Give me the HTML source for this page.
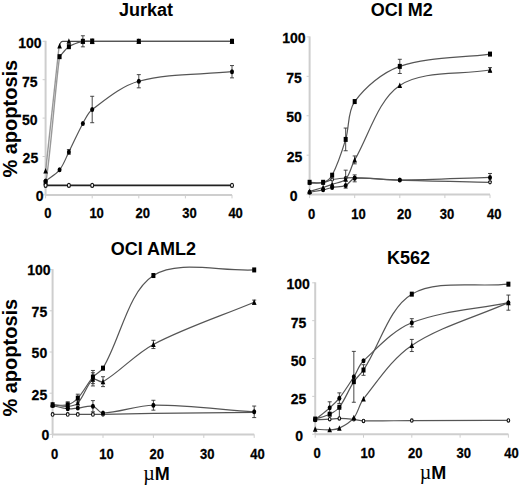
<!DOCTYPE html>
<html><head><meta charset="utf-8"><style>
html,body{margin:0;padding:0;background:#fff;}
body{width:520px;height:486px;overflow:hidden;}
svg{display:block;font-family:"Liberation Sans", sans-serif;}
text{fill:#000;}
</style></head><body>
<svg width="520" height="486" viewBox="0 0 520 486">
<rect width="520" height="486" fill="#fff"/>
<g stroke="#cecece" stroke-width="2" fill="none">
<path d="M45.60 40.80V194.90"/>
<path d="M45.60 194.90H232.00"/>
</g>
<g stroke="#cecece" stroke-width="1" fill="none">
<path d="M42.60 194.90H45.60"/>
<path d="M42.60 156.50H45.60"/>
<path d="M42.60 118.10H45.60"/>
<path d="M42.60 79.70H45.60"/>
<path d="M42.60 41.30H45.60"/>
<path d="M45.60 194.90V198.40"/>
<path d="M92.20 194.90V198.40"/>
<path d="M138.80 194.90V198.40"/>
<path d="M185.40 194.90V198.40"/>
<path d="M232.00 194.90V198.40"/>
</g>
<path d="M59.6 46 C60.1 42.6, 60.8 41.3, 62.8 41.3 H232" fill="none" stroke="#4a4a4a" stroke-width="1.2"/>
<path d="M45.6 171.1 L59.1 46" fill="none" stroke="#999" stroke-width="1.4"/>
<path d="M59.58 56.66 C62.69 53.33 65.20 49.12 68.90 46.68 C72.96 44.00 78.09 42.40 82.88 41.30 C85.86 40.61 89.09 41.30 92.20 41.30 C107.73 41.30 123.27 41.30 138.80 41.30 C169.87 41.30 200.93 41.30 232.00 41.30" fill="none" stroke="#555" stroke-width="1.2"/>
<path d="M45.8 182.6 C50 160, 56 80, 59.6 56.7" fill="none" stroke="#999" stroke-width="1.4"/>
<path d="M45.60 181.08 C50.26 177.34 55.93 174.43 59.58 169.86 C63.70 164.70 65.87 157.92 68.90 151.89 C73.64 142.46 77.81 132.71 82.88 123.48 C85.57 118.58 87.81 112.82 92.20 109.50 C106.45 98.74 121.66 85.87 138.80 81.24 C168.26 73.27 200.93 74.89 232.00 71.71" fill="none" stroke="#555" stroke-width="1.2"/>
<path d="M45.60 185.38 L68.90 185.38 L92.20 185.38 L232.00 185.38" fill="none" stroke="#222" stroke-width="1.6"/>
<path d="M82.88 35.77V46.83M80.88 35.77H84.88M80.88 46.83H84.88" stroke="#333" stroke-width="0.9" fill="none"/>
<path d="M92.20 39.00V43.60M90.20 39.00H94.20M90.20 43.60H94.20" stroke="#333" stroke-width="0.9" fill="none"/>
<path d="M68.90 149.59V154.20M66.90 149.59H70.90M66.90 154.20H70.90" stroke="#333" stroke-width="0.9" fill="none"/>
<path d="M92.20 96.29V122.71M90.20 96.29H94.20M90.20 122.71H94.20" stroke="#333" stroke-width="0.9" fill="none"/>
<path d="M138.80 74.63V87.84M136.80 74.63H140.80M136.80 87.84H140.80" stroke="#333" stroke-width="0.9" fill="none"/>
<path d="M232.00 65.57V77.86M230.00 65.57H234.00M230.00 77.86H234.00" stroke="#333" stroke-width="0.9" fill="none"/>
<path d="M45.60 168.09L47.90 173.59L43.30 173.59Z" fill="#000"/>
<path d="M59.58 42.91L61.88 48.41L57.28 48.41Z" fill="#000"/>
<path d="M68.90 38.30L71.20 43.80L66.60 43.80Z" fill="#000"/>
<path d="M82.88 38.30L85.18 43.80L80.58 43.80Z" fill="#000"/>
<path d="M92.20 38.30L94.50 43.80L89.90 43.80Z" fill="#000"/>
<path d="M138.80 38.30L141.10 43.80L136.50 43.80Z" fill="#000"/>
<path d="M232.00 38.30L234.30 43.80L229.70 43.80Z" fill="#000"/>
<rect x="57.58" y="54.16" width="4.00" height="5.00" fill="#000"/>
<rect x="66.90" y="44.18" width="4.00" height="5.00" fill="#000"/>
<rect x="80.88" y="38.80" width="4.00" height="5.00" fill="#000"/>
<rect x="90.20" y="38.80" width="4.00" height="5.00" fill="#000"/>
<rect x="136.80" y="38.80" width="4.00" height="5.00" fill="#000"/>
<rect x="230.00" y="38.80" width="4.00" height="5.00" fill="#000"/>
<rect x="43.60" y="180.11" width="4.00" height="5.00" fill="#000"/>
<ellipse cx="45.60" cy="181.08" rx="2.00" ry="2.50" fill="#000"/>
<ellipse cx="59.58" cy="169.86" rx="2.00" ry="2.50" fill="#000"/>
<ellipse cx="68.90" cy="151.89" rx="2.00" ry="2.50" fill="#000"/>
<ellipse cx="82.88" cy="123.48" rx="2.00" ry="2.50" fill="#000"/>
<ellipse cx="92.20" cy="109.50" rx="2.00" ry="2.50" fill="#000"/>
<ellipse cx="138.80" cy="81.24" rx="2.00" ry="2.50" fill="#000"/>
<ellipse cx="232.00" cy="71.71" rx="2.00" ry="2.50" fill="#000"/>
<ellipse cx="45.60" cy="185.38" rx="1.50" ry="2.00" fill="#fff" stroke="#111" stroke-width="1.1"/>
<ellipse cx="68.90" cy="185.38" rx="1.50" ry="2.00" fill="#fff" stroke="#111" stroke-width="1.1"/>
<ellipse cx="92.20" cy="185.38" rx="1.50" ry="2.00" fill="#fff" stroke="#111" stroke-width="1.1"/>
<ellipse cx="232.00" cy="185.38" rx="1.50" ry="2.00" fill="#fff" stroke="#111" stroke-width="1.1"/>
<text transform="translate(41.60 47.70) scale(1 1.030)" text-anchor="end" font-size="14" font-weight="bold" stroke="#000" stroke-width="0.25">100</text>
<text transform="translate(37.60 86.60) scale(1 1.030)" text-anchor="end" font-size="14" font-weight="bold" stroke="#000" stroke-width="0.25">75</text>
<text transform="translate(37.60 124.70) scale(1 1.030)" text-anchor="end" font-size="14" font-weight="bold" stroke="#000" stroke-width="0.25">50</text>
<text transform="translate(38.20 163.20) scale(1 1.030)" text-anchor="end" font-size="14" font-weight="bold" stroke="#000" stroke-width="0.25">25</text>
<text transform="translate(43.60 200.60) scale(1 1.030)" text-anchor="end" font-size="14" font-weight="bold" stroke="#000" stroke-width="0.25">0</text>
<text transform="translate(47.80 218.20) scale(1 1.130)" text-anchor="middle" font-size="13" font-weight="bold" stroke="#000" stroke-width="0.25">0</text>
<text transform="translate(96.60 218.20) scale(1 1.130)" text-anchor="middle" font-size="13" font-weight="bold" stroke="#000" stroke-width="0.25">10</text>
<text transform="translate(142.70 218.20) scale(1 1.130)" text-anchor="middle" font-size="13" font-weight="bold" stroke="#000" stroke-width="0.25">20</text>
<text transform="translate(189.50 218.20) scale(1 1.130)" text-anchor="middle" font-size="13" font-weight="bold" stroke="#000" stroke-width="0.25">30</text>
<text transform="translate(235.60 218.20) scale(1 1.130)" text-anchor="middle" font-size="13" font-weight="bold" stroke="#000" stroke-width="0.25">40</text>
<text x="146.00" y="15.80" text-anchor="middle" font-size="18" font-weight="bold">Jurkat</text>
<text transform="translate(16.60 118.70) rotate(-90)" text-anchor="middle" font-size="20" font-weight="bold">% apoptosis</text>
<g stroke="#cecece" stroke-width="2" fill="none">
<path d="M309.60 36.40V194.60"/>
<path d="M309.60 194.60H490.00"/>
</g>
<g stroke="#cecece" stroke-width="1" fill="none">
<path d="M306.60 194.60H309.60"/>
<path d="M306.60 155.18H309.60"/>
<path d="M306.60 115.75H309.60"/>
<path d="M306.60 76.33H309.60"/>
<path d="M306.60 36.90H309.60"/>
<path d="M309.60 194.60V198.10"/>
<path d="M354.70 194.60V198.10"/>
<path d="M399.80 194.60V198.10"/>
<path d="M444.90 194.60V198.10"/>
<path d="M490.00 194.60V198.10"/>
</g>
<path d="M309.60 183.09 C314.11 182.98 318.72 183.45 323.13 182.77 C326.24 182.29 329.05 180.27 332.15 179.62 C336.57 178.69 341.16 178.45 345.68 178.04 C348.68 177.77 351.69 177.45 354.70 177.57 C369.73 178.14 384.75 179.57 399.80 180.09 C429.85 181.14 459.93 181.56 490.00 182.30" fill="none" stroke="#555" stroke-width="1.2"/>
<path d="M309.60 182.30 C314.11 182.30 319.06 183.58 323.13 182.30 C326.58 181.21 330.42 178.50 332.15 175.20 C337.93 164.20 341.95 151.58 345.68 139.41 C349.47 127.03 347.40 111.41 354.70 101.56 C365.44 87.07 382.40 72.49 399.80 66.39 C427.50 56.67 459.93 58.19 490.00 54.09" fill="none" stroke="#555" stroke-width="1.2"/>
<path d="M309.60 191.45 C314.11 190.13 318.65 188.91 323.13 187.50 C326.17 186.55 329.16 185.46 332.15 184.35 C336.68 182.67 342.63 182.45 345.68 179.15 C350.15 174.30 351.16 166.03 354.70 159.91 C369.20 134.81 377.82 100.08 399.80 85.47 C422.92 70.11 459.93 75.17 490.00 70.02" fill="none" stroke="#555" stroke-width="1.2"/>
<path d="M309.60 192.23 C314.11 191.45 318.65 190.81 323.13 189.87 C326.17 189.23 329.10 188.10 332.15 187.50 C336.62 186.63 341.59 187.11 345.68 185.45 C349.11 184.06 351.04 178.72 354.70 178.36 C369.08 176.93 384.76 180.20 399.80 180.09 C429.86 179.88 459.93 178.30 490.00 177.41" fill="none" stroke="#555" stroke-width="1.2"/>
<path d="M345.68 128.05V150.76M343.68 128.05H347.68M343.68 150.76H347.68" stroke="#333" stroke-width="0.9" fill="none"/>
<path d="M399.80 59.29V73.49M397.80 59.29H401.80M397.80 73.49H401.80" stroke="#333" stroke-width="0.9" fill="none"/>
<path d="M345.68 170.16V188.13M343.68 170.16H347.68M343.68 188.13H347.68" stroke="#333" stroke-width="0.9" fill="none"/>
<path d="M354.70 155.96V163.85M352.70 155.96H356.70M352.70 163.85H356.70" stroke="#333" stroke-width="0.9" fill="none"/>
<path d="M490.00 67.65V72.38M488.00 67.65H492.00M488.00 72.38H492.00" stroke="#333" stroke-width="0.9" fill="none"/>
<path d="M354.70 174.89V181.83M352.70 174.89H356.70M352.70 181.83H356.70" stroke="#333" stroke-width="0.9" fill="none"/>
<path d="M490.00 173.47V181.35M488.00 173.47H492.00M488.00 181.35H492.00" stroke="#333" stroke-width="0.9" fill="none"/>
<ellipse cx="309.60" cy="183.09" rx="1.30" ry="1.60" fill="#fff" stroke="#111" stroke-width="1.1"/>
<ellipse cx="323.13" cy="182.77" rx="1.30" ry="1.60" fill="#fff" stroke="#111" stroke-width="1.1"/>
<ellipse cx="332.15" cy="179.62" rx="1.30" ry="1.60" fill="#fff" stroke="#111" stroke-width="1.1"/>
<ellipse cx="345.68" cy="178.04" rx="1.30" ry="1.60" fill="#fff" stroke="#111" stroke-width="1.1"/>
<ellipse cx="354.70" cy="177.57" rx="1.30" ry="1.60" fill="#fff" stroke="#111" stroke-width="1.1"/>
<ellipse cx="399.80" cy="180.09" rx="1.30" ry="1.60" fill="#fff" stroke="#111" stroke-width="1.1"/>
<ellipse cx="490.00" cy="182.30" rx="1.30" ry="1.60" fill="#fff" stroke="#111" stroke-width="1.1"/>
<rect x="307.60" y="179.80" width="4.00" height="5.00" fill="#000"/>
<rect x="321.13" y="179.80" width="4.00" height="5.00" fill="#000"/>
<rect x="330.15" y="172.70" width="4.00" height="5.00" fill="#000"/>
<rect x="343.68" y="136.91" width="4.00" height="5.00" fill="#000"/>
<rect x="352.70" y="99.06" width="4.00" height="5.00" fill="#000"/>
<rect x="397.80" y="63.89" width="4.00" height="5.00" fill="#000"/>
<rect x="488.00" y="51.59" width="4.00" height="5.00" fill="#000"/>
<path d="M309.60 188.45L311.90 193.95L307.30 193.95Z" fill="#000"/>
<path d="M323.13 184.50L325.43 190.00L320.83 190.00Z" fill="#000"/>
<path d="M332.15 181.35L334.45 186.85L329.85 186.85Z" fill="#000"/>
<path d="M345.68 176.15L347.98 181.65L343.38 181.65Z" fill="#000"/>
<path d="M354.70 156.91L357.00 162.41L352.40 162.41Z" fill="#000"/>
<path d="M399.80 82.47L402.10 87.97L397.50 87.97Z" fill="#000"/>
<path d="M490.00 67.02L492.30 72.52L487.70 72.52Z" fill="#000"/>
<ellipse cx="309.60" cy="192.23" rx="2.00" ry="2.50" fill="#000"/>
<ellipse cx="323.13" cy="189.87" rx="2.00" ry="2.50" fill="#000"/>
<ellipse cx="332.15" cy="187.50" rx="2.00" ry="2.50" fill="#000"/>
<ellipse cx="345.68" cy="185.45" rx="2.00" ry="2.50" fill="#000"/>
<ellipse cx="354.70" cy="178.36" rx="2.00" ry="2.50" fill="#000"/>
<ellipse cx="399.80" cy="180.09" rx="2.00" ry="2.50" fill="#000"/>
<ellipse cx="490.00" cy="177.41" rx="2.00" ry="2.50" fill="#000"/>
<text transform="translate(305.60 42.60) scale(1 1.030)" text-anchor="end" font-size="14" font-weight="bold" stroke="#000" stroke-width="0.25">100</text>
<text transform="translate(301.80 82.70) scale(1 1.030)" text-anchor="end" font-size="14" font-weight="bold" stroke="#000" stroke-width="0.25">75</text>
<text transform="translate(301.80 121.90) scale(1 1.030)" text-anchor="end" font-size="14" font-weight="bold" stroke="#000" stroke-width="0.25">50</text>
<text transform="translate(302.40 162.00) scale(1 1.030)" text-anchor="end" font-size="14" font-weight="bold" stroke="#000" stroke-width="0.25">25</text>
<text transform="translate(297.60 200.90) scale(1 1.030)" text-anchor="end" font-size="14" font-weight="bold" stroke="#000" stroke-width="0.25">0</text>
<text transform="translate(311.50 218.70) scale(1 1.130)" text-anchor="middle" font-size="13" font-weight="bold" stroke="#000" stroke-width="0.25">0</text>
<text transform="translate(358.40 218.70) scale(1 1.130)" text-anchor="middle" font-size="13" font-weight="bold" stroke="#000" stroke-width="0.25">10</text>
<text transform="translate(404.20 218.70) scale(1 1.130)" text-anchor="middle" font-size="13" font-weight="bold" stroke="#000" stroke-width="0.25">20</text>
<text transform="translate(447.00 218.70) scale(1 1.130)" text-anchor="middle" font-size="13" font-weight="bold" stroke="#000" stroke-width="0.25">30</text>
<text transform="translate(494.30 218.70) scale(1 1.130)" text-anchor="middle" font-size="13" font-weight="bold" stroke="#000" stroke-width="0.25">40</text>
<text x="401.80" y="16.40" text-anchor="middle" font-size="18" font-weight="bold">OCI M2</text>
<g stroke="#cecece" stroke-width="2" fill="none">
<path d="M52.60 269.10V434.40"/>
<path d="M52.60 434.40H254.20"/>
</g>
<g stroke="#cecece" stroke-width="1" fill="none">
<path d="M49.60 434.40H52.60"/>
<path d="M49.60 393.20H52.60"/>
<path d="M49.60 352.00H52.60"/>
<path d="M49.60 310.80H52.60"/>
<path d="M49.60 269.60H52.60"/>
<path d="M52.60 434.40V437.90"/>
<path d="M103.00 434.40V437.90"/>
<path d="M153.40 434.40V437.90"/>
<path d="M203.80 434.40V437.90"/>
<path d="M254.20 434.40V437.90"/>
</g>
<path d="M52.60 414.46 L67.72 414.46 L77.80 414.46 L92.92 414.46 L103.00 414.29 L153.40 413.47 L254.20 412.32" fill="none" stroke="#555" stroke-width="1.2"/>
<path d="M52.60 404.74 C57.64 404.74 63.04 405.96 67.72 404.74 C71.44 403.76 75.14 401.07 77.80 398.14 C83.54 391.84 87.39 383.64 92.92 377.05 C95.79 373.64 100.72 371.98 103.00 368.15 C120.88 338.14 127.65 292.26 153.40 275.53 C178.05 259.52 220.60 271.80 254.20 269.93" fill="none" stroke="#555" stroke-width="1.2"/>
<path d="M52.60 404.74 C57.64 405.29 62.77 406.71 67.72 406.38 C71.17 406.16 75.50 405.55 77.80 403.09 C83.90 396.54 86.78 384.58 92.92 379.36 C95.18 377.44 100.14 383.31 103.00 381.66 C120.30 371.67 135.03 354.07 153.40 344.42 C185.43 327.59 220.60 316.29 254.20 302.23" fill="none" stroke="#555" stroke-width="1.2"/>
<path d="M52.60 405.56 C57.64 406.66 62.64 408.36 67.72 408.86 C71.04 409.18 74.45 408.38 77.80 408.03 C82.85 407.50 88.25 405.30 92.92 406.22 C96.65 406.95 99.12 413.04 103.00 412.98 C119.28 412.71 136.49 405.36 153.40 405.23 C186.89 404.97 220.60 409.63 254.20 411.82" fill="none" stroke="#555" stroke-width="1.2"/>
<path d="M67.72 401.77V407.70M65.72 401.77H69.72M65.72 407.70H69.72" stroke="#333" stroke-width="0.9" fill="none"/>
<path d="M77.80 394.19V402.10M75.80 394.19H79.80M75.80 402.10H79.80" stroke="#333" stroke-width="0.9" fill="none"/>
<path d="M92.92 370.46V383.64M90.92 370.46H94.92M90.92 383.64H94.92" stroke="#333" stroke-width="0.9" fill="none"/>
<path d="M92.92 372.76V385.95M90.92 372.76H94.92M90.92 385.95H94.92" stroke="#333" stroke-width="0.9" fill="none"/>
<path d="M103.00 376.72V386.61M101.00 376.72H105.00M101.00 386.61H105.00" stroke="#333" stroke-width="0.9" fill="none"/>
<path d="M153.40 340.30V348.54M151.40 340.30H155.40M151.40 348.54H155.40" stroke="#333" stroke-width="0.9" fill="none"/>
<path d="M254.20 300.09V304.37M252.20 300.09H256.20M252.20 304.37H256.20" stroke="#333" stroke-width="0.9" fill="none"/>
<path d="M92.92 400.62V411.82M90.92 400.62H94.92M90.92 411.82H94.92" stroke="#333" stroke-width="0.9" fill="none"/>
<path d="M153.40 400.29V410.17M151.40 400.29H155.40M151.40 410.17H155.40" stroke="#333" stroke-width="0.9" fill="none"/>
<path d="M254.20 406.05V417.59M252.20 406.05H256.20M252.20 417.59H256.20" stroke="#333" stroke-width="0.9" fill="none"/>
<ellipse cx="52.60" cy="414.46" rx="1.40" ry="1.80" fill="#fff" stroke="#111" stroke-width="1.1"/>
<ellipse cx="67.72" cy="414.46" rx="1.40" ry="1.80" fill="#fff" stroke="#111" stroke-width="1.1"/>
<ellipse cx="77.80" cy="414.46" rx="1.40" ry="1.80" fill="#fff" stroke="#111" stroke-width="1.1"/>
<ellipse cx="92.92" cy="414.46" rx="1.40" ry="1.80" fill="#fff" stroke="#111" stroke-width="1.1"/>
<ellipse cx="103.00" cy="414.29" rx="1.40" ry="1.80" fill="#fff" stroke="#111" stroke-width="1.1"/>
<rect x="50.60" y="402.24" width="4.00" height="5.00" fill="#000"/>
<rect x="65.72" y="402.24" width="4.00" height="5.00" fill="#000"/>
<rect x="75.80" y="395.64" width="4.00" height="5.00" fill="#000"/>
<rect x="90.92" y="374.55" width="4.00" height="5.00" fill="#000"/>
<rect x="101.00" y="365.65" width="4.00" height="5.00" fill="#000"/>
<rect x="151.40" y="273.03" width="4.00" height="5.00" fill="#000"/>
<rect x="252.20" y="267.43" width="4.00" height="5.00" fill="#000"/>
<path d="M52.60 401.74L54.90 407.24L50.30 407.24Z" fill="#000"/>
<path d="M67.72 403.38L70.02 408.88L65.42 408.88Z" fill="#000"/>
<path d="M77.80 400.09L80.10 405.59L75.50 405.59Z" fill="#000"/>
<path d="M92.92 376.36L95.22 381.86L90.62 381.86Z" fill="#000"/>
<path d="M103.00 378.66L105.30 384.16L100.70 384.16Z" fill="#000"/>
<path d="M153.40 341.42L155.70 346.92L151.10 346.92Z" fill="#000"/>
<path d="M254.20 299.23L256.50 304.73L251.90 304.73Z" fill="#000"/>
<ellipse cx="52.60" cy="405.56" rx="2.00" ry="2.50" fill="#000"/>
<ellipse cx="67.72" cy="408.86" rx="2.00" ry="2.50" fill="#000"/>
<ellipse cx="77.80" cy="408.03" rx="2.00" ry="2.50" fill="#000"/>
<ellipse cx="92.92" cy="406.22" rx="2.00" ry="2.50" fill="#000"/>
<ellipse cx="103.00" cy="412.98" rx="2.00" ry="2.50" fill="#000"/>
<ellipse cx="153.40" cy="405.23" rx="2.00" ry="2.50" fill="#000"/>
<ellipse cx="254.20" cy="411.82" rx="2.00" ry="2.50" fill="#000"/>
<text transform="translate(50.60 275.40) scale(1 1.030)" text-anchor="end" font-size="14" font-weight="bold" stroke="#000" stroke-width="0.25">100</text>
<text transform="translate(47.20 317.30) scale(1 1.030)" text-anchor="end" font-size="14" font-weight="bold" stroke="#000" stroke-width="0.25">75</text>
<text transform="translate(47.20 357.80) scale(1 1.030)" text-anchor="end" font-size="14" font-weight="bold" stroke="#000" stroke-width="0.25">50</text>
<text transform="translate(47.20 399.80) scale(1 1.030)" text-anchor="end" font-size="14" font-weight="bold" stroke="#000" stroke-width="0.25">25</text>
<text transform="translate(49.40 440.00) scale(1 1.030)" text-anchor="end" font-size="14" font-weight="bold" stroke="#000" stroke-width="0.25">0</text>
<text transform="translate(54.50 458.80) scale(1 1.130)" text-anchor="middle" font-size="13" font-weight="bold" stroke="#000" stroke-width="0.25">0</text>
<text transform="translate(106.40 458.80) scale(1 1.130)" text-anchor="middle" font-size="13" font-weight="bold" stroke="#000" stroke-width="0.25">10</text>
<text transform="translate(156.80 458.80) scale(1 1.130)" text-anchor="middle" font-size="13" font-weight="bold" stroke="#000" stroke-width="0.25">20</text>
<text transform="translate(207.20 458.80) scale(1 1.130)" text-anchor="middle" font-size="13" font-weight="bold" stroke="#000" stroke-width="0.25">30</text>
<text transform="translate(257.40 458.80) scale(1 1.130)" text-anchor="middle" font-size="13" font-weight="bold" stroke="#000" stroke-width="0.25">40</text>
<text x="153.40" y="254.50" text-anchor="middle" font-size="18" font-weight="bold">OCI AML2</text>
<text transform="translate(17.00 357.70) rotate(-90)" text-anchor="middle" font-size="20" font-weight="bold">% apoptosis</text>
<text x="156.50" y="479.60" text-anchor="middle" font-size="18"><tspan font-family="Liberation Serif" font-size="20" font-weight="normal">&#181;</tspan><tspan font-weight="bold">M</tspan></text>
<g stroke="#cecece" stroke-width="2" fill="none">
<path d="M315.20 282.30V434.20"/>
<path d="M315.20 434.20H508.40"/>
</g>
<g stroke="#cecece" stroke-width="1" fill="none">
<path d="M312.20 434.20H315.20"/>
<path d="M312.20 396.35H315.20"/>
<path d="M312.20 358.50H315.20"/>
<path d="M312.20 320.65H315.20"/>
<path d="M312.20 282.80H315.20"/>
<path d="M315.20 434.20V437.70"/>
<path d="M363.50 434.20V437.70"/>
<path d="M411.80 434.20V437.70"/>
<path d="M460.10 434.20V437.70"/>
<path d="M508.40 434.20V437.70"/>
</g>
<path d="M315.20 419.82 C320.03 419.62 324.86 419.48 329.69 419.21 C332.91 419.03 336.13 418.43 339.35 418.45 C344.18 418.48 349.03 418.88 353.84 419.36 C357.08 419.69 360.25 420.81 363.50 420.88 C379.57 421.21 395.70 420.62 411.80 420.57 C444.00 420.47 476.20 420.47 508.40 420.42" fill="none" stroke="#555" stroke-width="1.2"/>
<path d="M315.20 419.06 C320.03 417.45 325.17 416.43 329.69 414.22 C333.22 412.49 337.03 410.38 339.35 407.25 C345.08 399.53 348.53 389.86 353.84 381.66 C356.58 377.44 360.72 374.21 363.50 370.01 C380.04 345.04 388.58 307.91 411.80 294.15 C436.88 279.30 476.20 287.49 508.40 284.16" fill="none" stroke="#555" stroke-width="1.2"/>
<path d="M315.20 419.82 C320.03 415.83 325.03 412.03 329.69 407.86 C333.08 404.82 336.56 401.75 339.35 398.17 C344.61 391.41 349.18 384.04 353.84 376.82 C357.23 371.58 358.99 364.98 363.50 360.77 C378.31 346.96 393.26 330.21 411.80 322.77 C441.56 310.83 476.20 309.35 508.40 302.63" fill="none" stroke="#555" stroke-width="1.2"/>
<path d="M315.20 429.20 C320.03 429.41 324.89 430.02 329.69 429.81 C332.94 429.67 336.49 429.56 339.35 428.14 C344.54 425.57 350.17 422.29 353.84 417.85 C358.22 412.55 359.10 404.42 363.50 398.92 C378.42 380.30 392.22 358.49 411.80 345.48 C440.52 326.39 476.20 316.92 508.40 302.63" fill="none" stroke="#555" stroke-width="1.2"/>
<path d="M339.35 407.25V418.61M337.35 407.25H341.35M337.35 418.61H341.35" stroke="#333" stroke-width="0.9" fill="none"/>
<path d="M363.50 364.71V375.31M361.50 364.71H365.50M361.50 375.31H365.50" stroke="#333" stroke-width="0.9" fill="none"/>
<path d="M329.69 401.80V413.91M327.69 401.80H331.69M327.69 413.91H331.69" stroke="#333" stroke-width="0.9" fill="none"/>
<path d="M339.35 392.87V403.47M337.35 392.87H341.35M337.35 403.47H341.35" stroke="#333" stroke-width="0.9" fill="none"/>
<path d="M353.84 351.38V402.25M351.84 351.38H355.84M351.84 402.25H355.84" stroke="#333" stroke-width="0.9" fill="none"/>
<path d="M411.80 318.68V326.86M409.80 318.68H413.80M409.80 326.86H413.80" stroke="#333" stroke-width="0.9" fill="none"/>
<path d="M508.40 295.06V310.20M506.40 295.06H510.40M506.40 310.20H510.40" stroke="#333" stroke-width="0.9" fill="none"/>
<path d="M411.80 339.42V351.54M409.80 339.42H413.80M409.80 351.54H413.80" stroke="#333" stroke-width="0.9" fill="none"/>
<ellipse cx="315.20" cy="419.82" rx="1.30" ry="1.70" fill="#fff" stroke="#111" stroke-width="1.1"/>
<ellipse cx="329.69" cy="419.21" rx="1.30" ry="1.70" fill="#fff" stroke="#111" stroke-width="1.1"/>
<ellipse cx="339.35" cy="418.45" rx="1.30" ry="1.70" fill="#fff" stroke="#111" stroke-width="1.1"/>
<ellipse cx="353.84" cy="419.36" rx="1.30" ry="1.70" fill="#fff" stroke="#111" stroke-width="1.1"/>
<ellipse cx="363.50" cy="420.88" rx="1.30" ry="1.70" fill="#fff" stroke="#111" stroke-width="1.1"/>
<ellipse cx="411.80" cy="420.57" rx="1.30" ry="1.70" fill="#fff" stroke="#111" stroke-width="1.1"/>
<ellipse cx="508.40" cy="420.42" rx="1.30" ry="1.70" fill="#fff" stroke="#111" stroke-width="1.1"/>
<rect x="313.20" y="416.56" width="4.00" height="5.00" fill="#000"/>
<rect x="327.69" y="411.72" width="4.00" height="5.00" fill="#000"/>
<rect x="337.35" y="404.75" width="4.00" height="5.00" fill="#000"/>
<rect x="351.84" y="379.16" width="4.00" height="5.00" fill="#000"/>
<rect x="361.50" y="367.51" width="4.00" height="5.00" fill="#000"/>
<rect x="409.80" y="291.65" width="4.00" height="5.00" fill="#000"/>
<rect x="506.40" y="281.66" width="4.00" height="5.00" fill="#000"/>
<ellipse cx="315.20" cy="419.82" rx="2.00" ry="2.50" fill="#000"/>
<ellipse cx="329.69" cy="407.86" rx="2.00" ry="2.50" fill="#000"/>
<ellipse cx="339.35" cy="398.17" rx="2.00" ry="2.50" fill="#000"/>
<ellipse cx="353.84" cy="376.82" rx="2.00" ry="2.50" fill="#000"/>
<ellipse cx="363.50" cy="360.77" rx="2.00" ry="2.50" fill="#000"/>
<ellipse cx="411.80" cy="322.77" rx="2.00" ry="2.50" fill="#000"/>
<ellipse cx="508.40" cy="302.63" rx="2.00" ry="2.50" fill="#000"/>
<path d="M315.20 426.20L317.50 431.70L312.90 431.70Z" fill="#000"/>
<path d="M329.69 426.81L331.99 432.31L327.39 432.31Z" fill="#000"/>
<path d="M339.35 425.14L341.65 430.64L337.05 430.64Z" fill="#000"/>
<path d="M353.84 414.85L356.14 420.35L351.54 420.35Z" fill="#000"/>
<path d="M363.50 395.92L365.80 401.42L361.20 401.42Z" fill="#000"/>
<path d="M411.80 342.48L414.10 347.98L409.50 347.98Z" fill="#000"/>
<path d="M508.40 299.63L510.70 305.13L506.10 305.13Z" fill="#000"/>
<text transform="translate(309.80 289.40) scale(1 1.030)" text-anchor="end" font-size="14" font-weight="bold" stroke="#000" stroke-width="0.25">100</text>
<text transform="translate(306.40 327.80) scale(1 1.030)" text-anchor="end" font-size="14" font-weight="bold" stroke="#000" stroke-width="0.25">75</text>
<text transform="translate(306.40 365.90) scale(1 1.030)" text-anchor="end" font-size="14" font-weight="bold" stroke="#000" stroke-width="0.25">50</text>
<text transform="translate(306.40 403.60) scale(1 1.030)" text-anchor="end" font-size="14" font-weight="bold" stroke="#000" stroke-width="0.25">25</text>
<text transform="translate(303.00 440.90) scale(1 1.030)" text-anchor="end" font-size="14" font-weight="bold" stroke="#000" stroke-width="0.25">0</text>
<text transform="translate(317.10 458.10) scale(1 1.130)" text-anchor="middle" font-size="13" font-weight="bold" stroke="#000" stroke-width="0.25">0</text>
<text transform="translate(367.80 458.10) scale(1 1.130)" text-anchor="middle" font-size="13" font-weight="bold" stroke="#000" stroke-width="0.25">10</text>
<text transform="translate(415.30 458.10) scale(1 1.130)" text-anchor="middle" font-size="13" font-weight="bold" stroke="#000" stroke-width="0.25">20</text>
<text transform="translate(463.80 458.10) scale(1 1.130)" text-anchor="middle" font-size="13" font-weight="bold" stroke="#000" stroke-width="0.25">30</text>
<text transform="translate(511.50 458.10) scale(1 1.130)" text-anchor="middle" font-size="13" font-weight="bold" stroke="#000" stroke-width="0.25">40</text>
<text x="408.60" y="263.50" text-anchor="middle" font-size="18" font-weight="bold">K562</text>
<text x="433.10" y="478.90" text-anchor="middle" font-size="18"><tspan font-family="Liberation Serif" font-size="20" font-weight="normal">&#181;</tspan><tspan font-weight="bold">M</tspan></text>
</svg>
</body></html>
